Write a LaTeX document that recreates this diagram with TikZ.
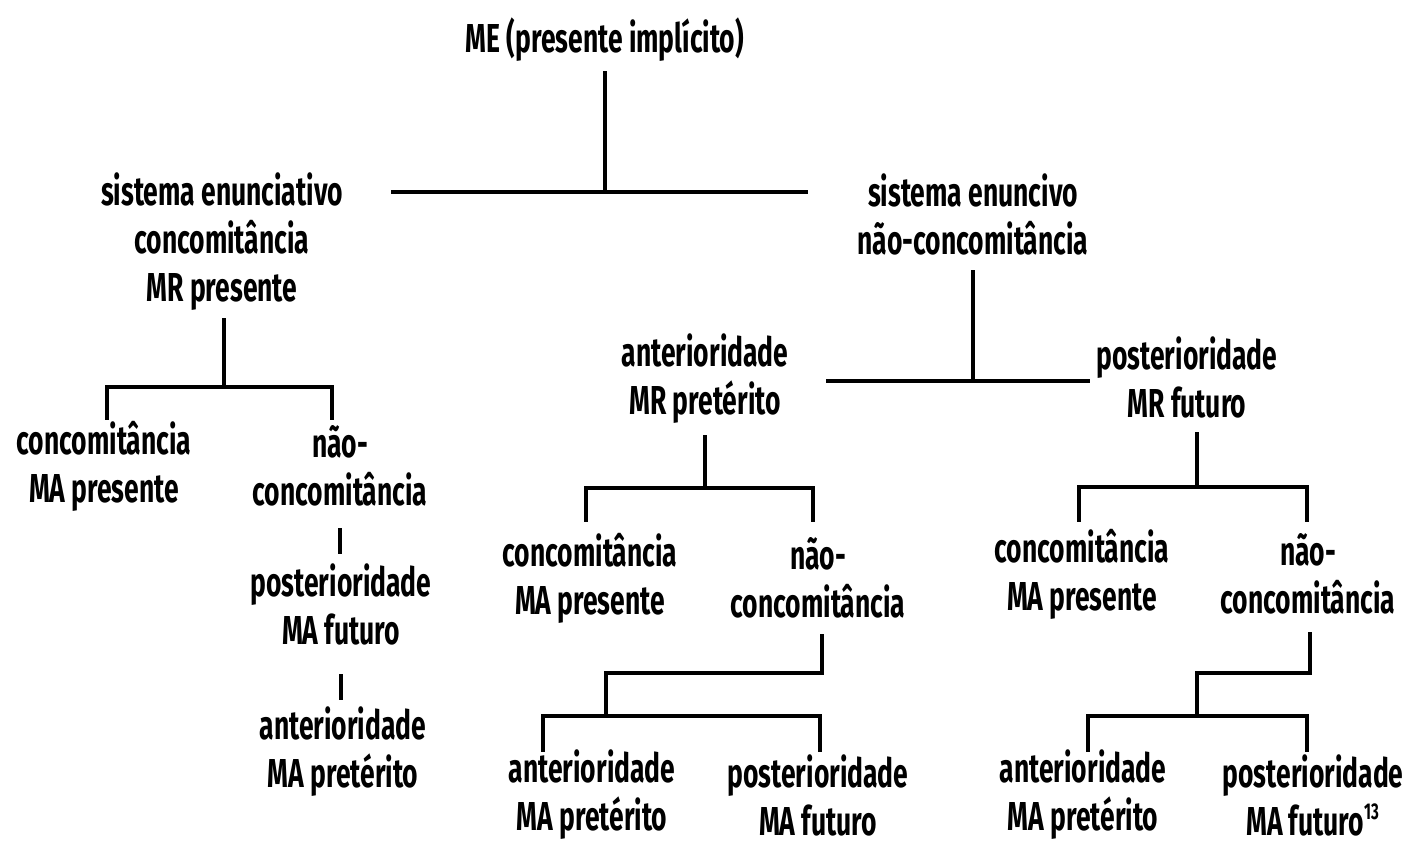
\documentclass[tikz,border=0pt]{standalone}
\usepackage{fontspec}
\setmainfont{Fira Sans}[FakeStretch=0.655]
\begin{document}
\begin{tikzpicture}[x=0.02cm,y=-0.02cm,
  lbl/.style={align=center,inner sep=0pt,font=\fontsize{23}{27.3}\selectfont\bfseries},
  ln/.style={line width=2.6pt,line cap=rect}]
\useasboundingbox (0,0) rectangle (1408,844);
% texts
\node[lbl] (me) at (605,40) {ME (presente implícito)};
\node[lbl] (enc) at (222,242) {sistema enunciativo\\concomitância\\MR presente};
\node[lbl] (enu) at (973,214) {sistema enuncivo\\não-concomitância};
\node[lbl] (lc) at (104,466) {concomitância\\MA presente};
\node[lbl] (lnc) at (340,466) {não-\\concomitância};
\node[lbl] (lpost) at (341,604) {posterioridade\\MA futuro};
\node[lbl] (lant) at (343,752) {anterioridade\\MA pretérito};
\node[lbl] (ant) at (705,379) {anterioridade\\MR pretérito};
\node[lbl] (mc) at (590,578) {concomitância\\MA presente};
\node[lbl] (mnc) at (818,578) {não-\\concomitância};
\node[lbl] (mant) at (592,795) {anterioridade\\MA pretérito};
\node[lbl] (mpost) at (818,795) {posterioridade\\MA futuro};
\node[lbl] (post) at (1187,377) {posterioridade\\MR futuro};
\node[lbl] (rc) at (1082,574) {concomitância\\MA presente};
\node[lbl] (rnc) at (1308,574) {não-\\concomitância};
\node[lbl] (rant) at (1083,795) {anterioridade\\MA pretérito};
\node[lbl] (rpost) at (1313,795) {posterioridade\\MA futuro\textsuperscript{\fontsize{13}{13}\selectfont 13}};
% junctions
\coordinate (j0) at (605,192);
\coordinate (h0l) at (393,192);
\coordinate (h0r) at (806,192);
\coordinate (j1) at (224,387);
\coordinate (h1l) at (107,387);
\coordinate (h1r) at (332,387);
\coordinate (j2) at (973,381);
\coordinate (h2l) at (828,381);
\coordinate (h2r) at (1088,381);
\coordinate (j3) at (705,488);
\coordinate (h3l) at (586,488);
\coordinate (h3r) at (813,488);
\coordinate (j4) at (1197,487);
\coordinate (h4l) at (1079,487);
\coordinate (h4r) at (1307,487);
\coordinate (s5) at (822,673);
\coordinate (j5) at (606,673);
\coordinate (k5) at (606,716);
\coordinate (h5l) at (543,716);
\coordinate (h5r) at (820,716);
\coordinate (s6) at (1310,673);
\coordinate (j6) at (1197,673);
\coordinate (k6) at (1197,716);
\coordinate (h6l) at (1088,716);
\coordinate (h6r) at (1307,716);
% connectors
\draw[ln] (me.south |- 0,73) -- (j0);
\draw[ln] (h0l) -- (h0r);
\draw[ln] (j1 |- 0,320) -- (j1);
\draw[ln] (h1l |- 0,418) -- (h1l) -- (h1r) -- (h1r |- 0,418);
\draw[ln] (lnc.south |- 0,530) -- (lnc.south |- 0,552);
\draw[ln] (lpost.south |- 0,676) -- (lpost.south |- 0,698);
\draw[ln] (enu.south |- 0,272) -- (j2);
\draw[ln] (h2l) -- (h2r);
\draw[ln] (j3 |- 0,437) -- (j3);
\draw[ln] (h3l |- 0,520) -- (h3l) -- (h3r) -- (h3r |- 0,520);
\draw[ln] (j4 |- 0,434) -- (j4);
\draw[ln] (h4l |- 0,520) -- (h4l) -- (h4r) -- (h4r |- 0,520);
\draw[ln] (s5 |- 0,636) -- (s5) -- (j5) -- (k5);
\draw[ln] (h5l |- 0,750) -- (h5l) -- (h5r) -- (h5r |- 0,750);
\draw[ln] (s6 |- 0,634) -- (s6) -- (j6) -- (k6);
\draw[ln] (h6l |- 0,750) -- (h6l) -- (h6r) -- (h6r |- 0,750);
\end{tikzpicture}
\end{document}
